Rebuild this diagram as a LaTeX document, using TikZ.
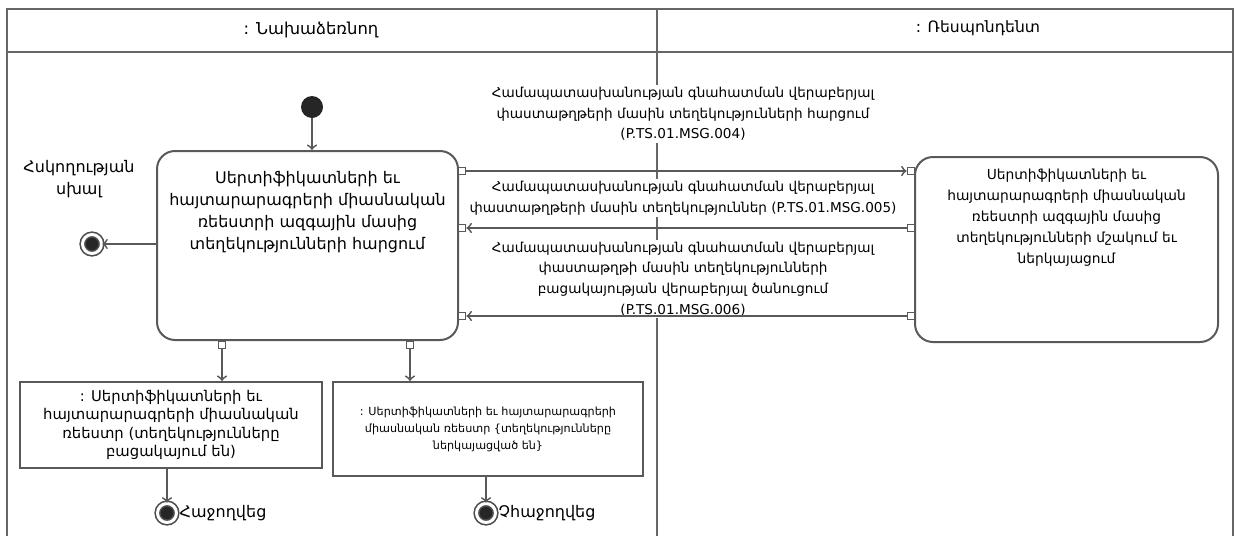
\documentclass[tikz,border=0pt]{standalone}
\usepackage{fontspec}
\setmainfont{DejaVu Sans}
\usepackage{tikz}
\usetikzlibrary{positioning}
\usetikzlibrary{calc}
\tikzset{
    lane/.style={draw=black!60,line width=1pt},
    actbox/.style={draw=black!65,line width=1pt,rounded corners=9pt,fill=white},
    objbox/.style={draw=black!65,line width=1pt,fill=white,align=center},
    pinbox/.style={draw=black!65,line width=0.8pt,fill=white,minimum size=3.6pt,inner sep=0pt},
    msg/.style={fill=white,align=center,inner sep=1pt,font=\fontsize{6.8}{10.3}\selectfont},
    flow/.style={draw=black!65,line width=0.9pt,->},
    startst/.style={circle,fill=black!85,minimum size=11pt,inner sep=0pt},
    endst/.style={circle,draw=black!70,double=white,double distance=1.5pt,line width=0.8pt,fill=black!85,minimum size=9.5pt,inner sep=0pt}
}

\begin{document}
\begin{tikzpicture}[x=0.5pt,y=-0.5pt]
        \useasboundingbox (0,0) rectangle (1234,536);
        \draw[lane] (7,536) -- (7,9) -- (1233,9) -- (1233,536);
        \draw[lane] (7,52) -- (1233,52);
        \draw[lane] (657,9) -- (657,536);
        \node[font=\fontsize{8.2}{11}\selectfont] (inith) at (311,30) {: Նախաձեռնող};
        \node[font=\fontsize{7.8}{11}\selectfont] (resph) at (978,28) {: Ռեսպոնդենտ};

        \node[startst] (init) at (312,107) {};
        \node[actbox,minimum width=150.5pt,minimum height=94.5pt] (req) at (307.5,245.5) {};
        \node[below=7pt of req.north,align=center,font=\fontsize{8}{11}\selectfont] (reqtxt) {Սերտիֆիկատների եւ\\հայտարարագրերի միասնական\\ռեեստրի ազգային մասից\\տեղեկությունների հարցում};
        \node[actbox,minimum width=151.5pt,minimum height=92.5pt] (resp) at (1066.5,249.5) {};
        \node[below=3pt of resp.north,align=center,font=\fontsize{6.9}{10.5}\selectfont] (resptxt) {Սերտիֆիկատների եւ\\հայտարարագրերի միասնական\\ռեեստրի ազգային մասից\\տեղեկությունների մշակում եւ\\ներկայացում};

        \node[msg] (m1) at (683,114) {Համապատասխանության գնահատման վերաբերյալ\\փաստաթղթերի մասին տեղեկությունների հարցում\\(P.TS.01.MSG.004)};
        \node[msg] (m2) at (683,198) {Համապատասխանության գնահատման վերաբերյալ\\փաստաթղթերի մասին տեղեկություններ (P.TS.01.MSG.005)};
        \node[msg] (m3) at (683,279) {Համապատասխանության գնահատման վերաբերյալ\\փաստաթղթի մասին տեղեկությունների\\բացակայության վերաբերյալ ծանուցում\\(P.TS.01.MSG.006)};

        \foreach \y/\n in {171/1,228/2,316/3} {
            \node[pinbox] (pl\n) at (462,\y) {};
            \node[pinbox] (pr\n) at (911,\y) {};
        }
        \node[pinbox] (pb1) at (222,345) {};
        \node[pinbox] (pb2) at (410,345) {};

        \node[objbox,minimum width=151pt,minimum height=43pt,font=\fontsize{7.4}{9.2}\selectfont] (absent) at (171,425) {: Սերտիֆիկատների եւ\\հայտարարագրերի միասնական\\ռեեստր (տեղեկությունները\\բացակայում են)};
        \node[objbox,minimum width=155pt,minimum height=47pt,font=\fontsize{5.6}{8.5}\selectfont] (present) at (488,429) {: Սերտիֆիկատների եւ հայտարարագրերի\\միասնական ռեեստր \{տեղեկությունները\\ներկայացված են\}};

        \node[endst] (errend) at (92,244) {};
        \node[font=\fontsize{8}{11}\selectfont,align=center] (errlbl) at (79,179) {Հսկողության\\սխալ};
        \node[endst] (okend) at (167,513) {};
        \node[right=0pt of okend,inner sep=1pt,font=\fontsize{8}{10}\selectfont] (oklbl) {Հաջողվեց};
        \node[endst] (failend) at (486,513) {};
        \node[right=0pt of failend,inner sep=1pt,font=\fontsize{8}{10}\selectfont] (faillbl) {Չհաջողվեց};

        \draw[flow] (init) -- (init |- req.north);
        \draw[flow] (req.west |- errend) -- (errend);
        \draw[flow] (pl1) -- (pr1);
        \draw[flow] (pr2) -- (pl2);
        \draw[flow] (pr3) -- (pl3);
        \draw[flow] (pb1) -- (pb1 |- absent.north);
        \draw[flow] (pb2) -- (pb2 |- present.north);
        \draw[flow] (absent.south -| okend) -- (okend);
        \draw[flow] (present.south -| failend) -- (failend);
\end{tikzpicture}
\end{document}
